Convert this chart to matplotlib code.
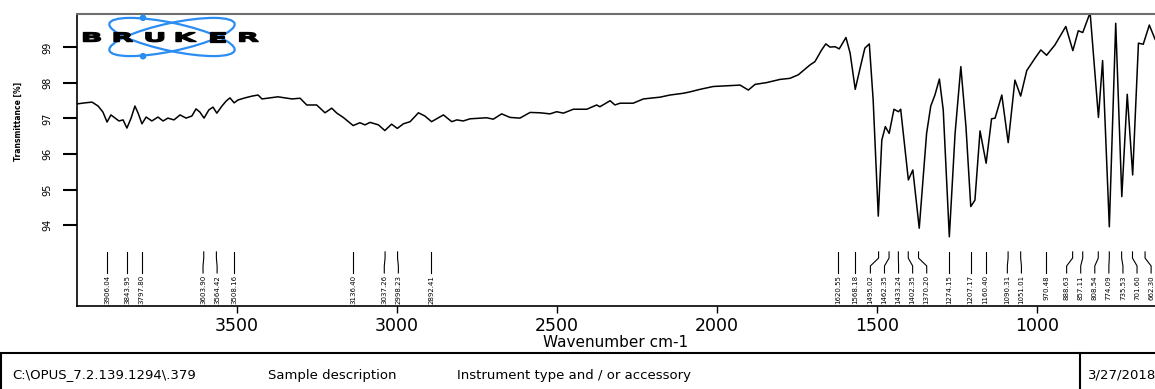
import numpy as np
import matplotlib.pyplot as plt
import matplotlib.transforms as mtransforms
from matplotlib.patches import Ellipse, PathPatch, Rectangle, Circle
from matplotlib.textpath import TextPath
from matplotlib.font_manager import FontProperties
from matplotlib.path import Path

# spectrum: wavenumber (cm-1) and transmittance (%)
wavenumber = [
    4000, 3975, 3953, 3934, 3919, 3906, 3894, 3881, 3869, 3856, 3844, 3831, 3819, 3809,
    3797, 3784, 3766, 3747, 3731, 3716, 3697, 3678, 3659, 3641, 3628, 3616, 3603, 3588,
    3575, 3563, 3547, 3534, 3522, 3509, 3497, 3475, 3453, 3434, 3422, 3397, 3372, 3350,
    3328, 3303, 3282, 3251, 3225, 3204, 3188, 3168, 3137, 3116, 3100, 3084, 3058, 3038,
    3017, 2999, 2980, 2959, 2933, 2913, 2892, 2855, 2829, 2813, 2793, 2772, 2720, 2699,
    2673, 2647, 2616, 2584, 2553, 2522, 2501, 2480, 2449, 2407, 2376, 2366, 2334, 2319,
    2303, 2262, 2230, 2178, 2147, 2105, 2084, 2053, 2012, 1928, 1902, 1881, 1845, 1803,
    1772, 1746, 1709, 1694, 1673, 1660, 1647, 1631, 1618, 1597, 1584, 1568, 1553, 1538,
    1524, 1512, 1496, 1485, 1474, 1462, 1447, 1433, 1426, 1402, 1388, 1368, 1345, 1332,
    1319, 1305, 1293, 1274, 1256, 1238, 1222, 1207, 1194, 1178, 1159, 1142, 1131, 1110,
    1090, 1069, 1051, 1032, 1006, 988, 970, 944, 910, 888, 871, 857, 834, 808, 795, 774,
    754, 735, 718, 701, 683, 668, 649, 631,
]
transmittance = [
    97.41, 97.44, 97.46, 97.35, 97.18, 96.90, 97.10, 97.01, 96.93, 96.96, 96.73, 97.01,
    97.35, 97.15, 96.85, 97.04, 96.93, 97.04, 96.93, 97.01, 96.96, 97.10, 97.01, 97.07,
    97.27, 97.18, 97.01, 97.24, 97.32, 97.15, 97.35, 97.49, 97.58, 97.44, 97.52, 97.58,
    97.63, 97.66, 97.55, 97.58, 97.61, 97.58, 97.55, 97.57, 97.38, 97.38, 97.16, 97.29,
    97.15, 97.03, 96.80, 96.88, 96.82, 96.89, 96.82, 96.66, 96.84, 96.72, 96.85, 96.91,
    97.16, 97.07, 96.91, 97.10, 96.91, 96.96, 96.93, 96.99, 97.02, 96.98, 97.13, 97.03,
    97.01, 97.17, 97.16, 97.13, 97.19, 97.15, 97.26, 97.26, 97.38, 97.33, 97.50, 97.38,
    97.43, 97.43, 97.55, 97.60, 97.66, 97.71, 97.75, 97.82, 97.90, 97.94, 97.80, 97.96,
    98.01, 98.10, 98.13, 98.23, 98.51, 98.60, 98.93, 99.10, 99.01, 99.02, 98.96, 99.28,
    98.84, 97.82, 98.41, 98.98, 99.10, 97.52, 94.25, 96.39, 96.77, 96.58, 97.26, 97.19,
    97.26, 95.27, 95.55, 93.91, 96.58, 97.35, 97.66, 98.11, 97.24, 93.67, 96.58, 98.46,
    96.77, 94.52, 94.70, 96.65, 95.74, 96.99, 97.01, 97.66, 96.32, 98.08, 97.63, 98.35,
    98.70, 98.93, 98.78, 99.07, 99.59, 98.91, 99.47, 99.42, 99.98, 97.03, 98.63, 93.95,
    99.68, 94.80, 97.68, 95.41, 99.12, 99.09, 99.63, 99.23,
]

# picked peaks
peaks = [
    3906.04, 3843.95, 3797.80, 3603.90, 3564.42, 3508.16, 3136.40, 3037.26, 2998.23,
    2892.41, 1620.55, 1568.18, 1495.02, 1462.35, 1433.24, 1402.35, 1370.20, 1274.15,
    1207.17, 1160.40, 1090.31, 1051.01, 970.48, 888.63, 857.11, 808.54, 774.09,
    735.53, 701.60, 662.30,
]
xticks = [3500, 3000, 2500, 2000, 1500, 1000]
yticks = [94, 95, 96, 97, 98, 99]

W, H = 1155, 389
fig = plt.figure(figsize=(W / 100, H / 100), dpi=100)
ax = fig.add_axes([77 / W, 1 - 306 / H, (W - 77) / W, (306 - 13.7) / H])

ax.plot(wavenumber, transmittance, color='black', lw=1.1)
ax.set_xlim(4000, 631.25)
ax.set_ylim(91.72, 99.95)

for side in ['left', 'bottom']:
    ax.spines[side].set_linewidth(1.2)
ax.spines['top'].set_color('#6e6e6e')
ax.spines['top'].set_linewidth(1.5)
ax.spines['right'].set_visible(False)

ax.set_xticks(xticks)
ax.set_xticklabels([str(t) for t in xticks], fontsize=12.5)
ax.tick_params(axis='x', direction='out', length=5, width=1, pad=3)
ax.set_xlabel('Wavenumber cm-1', fontsize=11, labelpad=0)

ax.set_yticks(yticks)
ax.set_yticklabels([str(t) for t in yticks], fontsize=7, rotation=90, va='center')
ax.tick_params(axis='y', direction='out', length=10, width=1.5, pad=8)
for i, tl in enumerate(ax.get_yticklines()):
    # every other tick drawn in grey
    tl.set_color('#8a8a8a' if (i // 2) % 2 == 0 else 'black')

fig.text(18 / W, 1 - 121 / H, 'Transmittance [%]', rotation=90, fontsize=5.5,
         fontweight='bold', ha='center', va='center')

# peak labels, spread apart so they do not overlap
pk = sorted(peaks, reverse=True)
pos = list(pk)
gap = 44.0
for _ in range(400):
    for i in range(len(pos) - 1):
        d = pos[i] - pos[i + 1]
        if d < gap:
            s = (gap - d) / 2
            pos[i] += s
            pos[i + 1] -= s

trans = ax.get_xaxis_transform()
for p, lx in zip(pk, pos):
    ax.plot([p, p, lx, lx], [0.185, 0.164, 0.137, 0.113], color='black', lw=0.8,
            transform=trans, clip_on=True)
    ax.text(lx, 0.106, f'{p:.2f}', rotation=90, ha='center', va='top', fontsize=5,
            transform=trans, clip_on=True)

# logo
lax = fig.add_axes([75 / W, 1 - 62 / H, 195 / W, 52 / H])
lax.set_xlim(75, 270)
lax.set_ylim(62, 10)
lax.axis('off')
blue = '#2b8cf2'
for ang in (12, -12):
    lax.add_patch(Ellipse((172, 37), 128, 28, angle=ang, fill=False, ec=blue, lw=1.6))
lax.add_patch(Circle((143, 17.8), 2.6, color=blue))
lax.add_patch(Circle((143, 56.2), 2.6, color=blue))

fp = FontProperties(family='DejaVu Sans', weight='bold')
for i, ch in enumerate('BRUKER'):
    tp = TextPath((0, 0), ch, size=12.5, prop=fp)
    v = tp.vertices.copy()
    bb = tp.get_extents()
    cx = 92 + 31.4 * i
    v[:, 0] = cx + 2.3 * (v[:, 0] - (bb.x0 + bb.x1) / 2)
    v[:, 1] = 41.6 - v[:, 1]
    lax.add_patch(PathPatch(Path(v, tp.codes), fc='black', ec='black', lw=0.9))

# footer box
fig.add_artist(Rectangle((1 / W, -0.1), 1.2, 0.1 + 1 - 353 / H, transform=fig.transFigure,
                         fill=False, ec='black', lw=1.5))
fig.add_artist(plt.Line2D([1080 / W, 1080 / W], [0, 1 - 353 / H], transform=fig.transFigure,
                          color='black', lw=1.5))
yf = 1 - 375 / H
fig.text(12 / W, yf, 'C:\\OPUS_7.2.139.1294\\.379', fontsize=9.5, va='center')
fig.text(268 / W, yf, 'Sample description', fontsize=9.5, va='center')
fig.text(457 / W, yf, 'Instrument type and / or accessory', fontsize=9.5, va='center')
fig.text(1088 / W, yf, '3/27/2018', fontsize=9.5, va='center')

fig.savefig('out.png', dpi=100)
